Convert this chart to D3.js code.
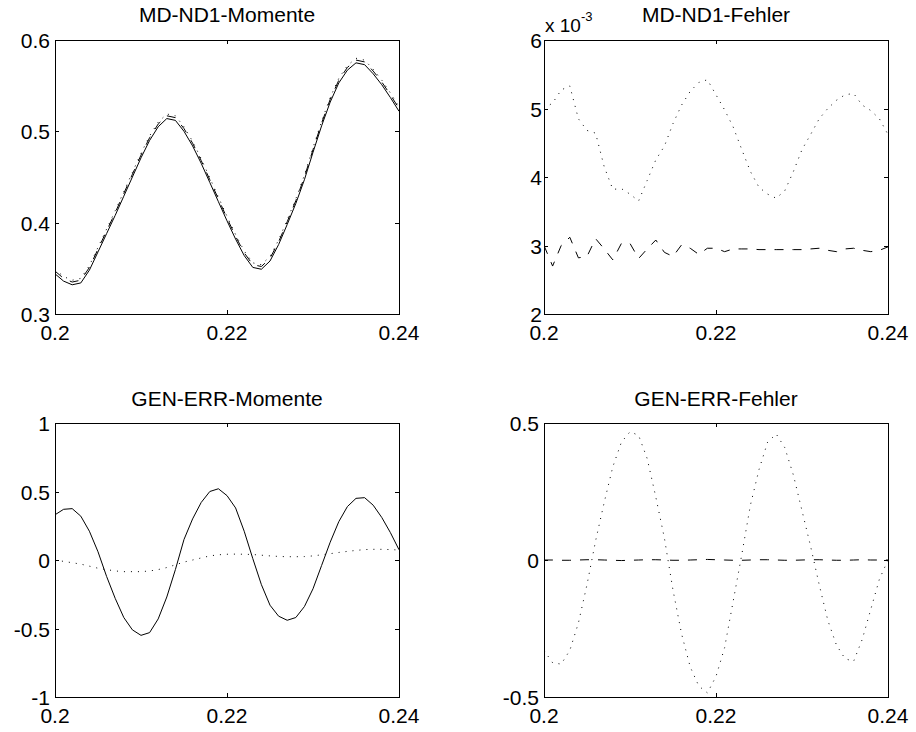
<!DOCTYPE html>
<html>
<head>
<meta charset="utf-8">
<script src="https://cdn.jsdelivr.net/npm/d3@7"></script>
<style>
  body { margin: 0; background: #fff; }
  svg text { font-family: "Liberation Sans", Arial, sans-serif; fill: #000; }
</style>
</head>
<body>
<div id="chart"></div>
<script>
// time axis, 0.2 .. 0.24 in steps of 0.001
const xs = d3.range(41).map(i => +(0.2 + i * 0.001).toFixed(3));
const xTicks = [0.2, 0.22, 0.24];

// MD-ND1-Momente
const mdSolid = [0.344,0.336,0.332,0.334,0.348,0.368,0.388,0.408,0.429,0.450,0.471,0.490,0.505,0.514,0.512,0.500,0.484,0.465,0.444,0.423,0.402,0.382,0.364,0.351,0.349,0.358,0.376,0.398,0.421,0.447,0.477,0.506,0.532,0.553,0.567,0.575,0.573,0.563,0.551,0.537,0.522];
const mdDashed = [0.347,0.339,0.335,0.337,0.351,0.371,0.391,0.411,0.432,0.453,0.474,0.493,0.508,0.517,0.515,0.503,0.487,0.468,0.447,0.426,0.405,0.385,0.367,0.354,0.352,0.361,0.379,0.401,0.424,0.450,0.480,0.509,0.535,0.556,0.570,0.578,0.576,0.566,0.554,0.540,0.525];
const mdDotted = [0.349,0.341,0.337,0.339,0.353,0.373,0.393,0.413,0.434,0.455,0.476,0.495,0.510,0.519,0.517,0.505,0.489,0.470,0.449,0.428,0.407,0.387,0.369,0.356,0.354,0.363,0.381,0.403,0.426,0.452,0.482,0.511,0.537,0.558,0.572,0.580,0.578,0.568,0.556,0.542,0.527];

// MD-ND1-Fehler (values in units of 1e-3)
const mdErrDotted = [5.00,5.08,5.27,5.33,4.85,4.68,4.64,4.15,3.82,3.83,3.75,3.65,3.95,4.25,4.45,4.78,5.05,5.25,5.38,5.42,5.20,4.98,4.73,4.40,4.08,3.85,3.75,3.69,3.80,4.08,4.40,4.62,4.85,5.00,5.12,5.20,5.22,5.05,4.97,4.85,4.62];
const mdErrDashed = [3.00,2.70,3.00,3.12,2.82,2.84,3.10,2.95,2.79,3.03,3.03,2.81,2.95,3.08,2.90,2.84,3.01,2.96,2.87,2.96,2.96,2.91,2.95,2.95,2.95,2.94,2.94,2.94,2.94,2.94,2.94,2.95,2.96,2.93,2.91,2.95,2.96,2.93,2.91,2.93,2.98];

// GEN-ERR-Momente
const genSolid = [0.33,0.37,0.375,0.32,0.21,0.06,-0.12,-0.28,-0.42,-0.51,-0.55,-0.53,-0.43,-0.27,-0.07,0.15,0.30,0.42,0.50,0.52,0.47,0.38,0.21,0.01,-0.18,-0.33,-0.41,-0.44,-0.42,-0.34,-0.21,-0.04,0.13,0.28,0.39,0.45,0.455,0.40,0.31,0.20,0.075];
const genDotted = [0.0,-0.01,-0.02,-0.03,-0.045,-0.06,-0.07,-0.08,-0.085,-0.085,-0.085,-0.08,-0.07,-0.055,-0.035,-0.015,0.0,0.015,0.03,0.038,0.042,0.043,0.042,0.04,0.035,0.03,0.026,0.024,0.024,0.025,0.03,0.038,0.046,0.055,0.063,0.07,0.076,0.078,0.078,0.076,0.073];

// GEN-ERR-Fehler
const genErrDotted = [-0.33,-0.375,-0.38,-0.33,-0.23,-0.09,0.07,0.21,0.34,0.43,0.468,0.455,0.37,0.23,0.08,-0.11,-0.27,-0.39,-0.46,-0.485,-0.425,-0.32,-0.15,0.02,0.20,0.33,0.43,0.46,0.41,0.31,0.18,0.05,-0.09,-0.22,-0.31,-0.36,-0.37,-0.29,-0.18,-0.07,0.0];
const genErrDashed = [0.0,0.0,-0.001,-0.001,0.0,0.001,0.001,0.0,-0.001,-0.002,-0.001,0.0,0.001,0.001,0.0,-0.001,-0.001,0.0,0.001,0.002,0.001,0.0,-0.001,-0.001,0.0,0.001,0.001,0.0,-0.001,-0.001,0.0,0.001,0.001,0.0,-0.001,-0.001,0.0,0.001,0.0,0.0,0.0];

const width = 916, height = 732;
const pw = 344, ph = 274;

const svg = d3.select("#chart").append("svg")
    .attr("width", width)
    .attr("height", height);

const dash = { solid: null, dashed: "9,9", dotted: "1,6" };

function panel(opt) {
  const g = svg.append("g").attr("transform", `translate(${opt.left},${opt.top})`);
  const x = d3.scaleLinear().domain([0.2, 0.24]).range([0, pw]);
  const y = d3.scaleLinear().domain(opt.yDomain).range([ph, 0]);

  const clipId = "clip" + opt.id;
  g.append("clipPath").attr("id", clipId)
    .append("rect").attr("width", pw).attr("height", ph);

  const line = d3.line().x((d, i) => x(xs[i])).y(d => y(d));
  const plot = g.append("g").attr("clip-path", `url(#${clipId})`);
  opt.series.forEach(s => {
    plot.append("path")
      .datum(s.values)
      .attr("d", line)
      .attr("fill", "none")
      .attr("stroke", "#000")
      .attr("stroke-width", 1)
      .attr("stroke-dasharray", dash[s.style]);
  });

  // box with inward ticks on all sides (matlab style)
  const tk = 4;
  g.append("rect")
    .attr("x", 0.5).attr("y", 0.5)
    .attr("width", pw).attr("height", ph)
    .attr("fill", "none").attr("stroke", "#000");

  xTicks.forEach(t => {
    const px = Math.round(x(t)) + 0.5;
    g.append("line").attr("x1", px).attr("x2", px).attr("y1", ph).attr("y2", ph - tk).attr("stroke", "#000");
    g.append("line").attr("x1", px).attr("x2", px).attr("y1", 0).attr("y2", tk).attr("stroke", "#000");
    g.append("text")
      .attr("x", x(t)).attr("y", ph + 26)
      .attr("text-anchor", "middle")
      .attr("font-size", 21)
      .text(String(t));
  });

  opt.yTicks.forEach(t => {
    const py = Math.round(y(t)) + 0.5;
    g.append("line").attr("x1", 0).attr("x2", tk).attr("y1", py).attr("y2", py).attr("stroke", "#000");
    g.append("line").attr("x1", pw).attr("x2", pw - tk).attr("y1", py).attr("y2", py).attr("stroke", "#000");
    g.append("text")
      .attr("x", -opt.labelGap).attr("y", y(t) + 8)
      .attr("text-anchor", "end")
      .attr("font-size", 21)
      .text(String(t));
  });

  g.append("text")
    .attr("x", pw / 2).attr("y", opt.titleY)
    .attr("text-anchor", "middle")
    .attr("font-size", 21)
    .text(opt.title);

  if (opt.exponent) {
    const e = g.append("text").attr("x", 1).attr("y", -8).attr("font-size", 19);
    e.append("tspan").text("x 10");
    e.append("tspan").attr("dy", -11).attr("font-size", 13).text(opt.exponent);
  }
}

panel({ id: 1, left: 55, top: 40, title: "MD-ND1-Momente", titleY: -18, labelGap: 5,
  yDomain: [0.3, 0.6], yTicks: [0.3, 0.4, 0.5, 0.6],
  series: [{ values: mdSolid, style: "solid" }, { values: mdDashed, style: "dashed" }, { values: mdDotted, style: "dotted" }] });

panel({ id: 2, left: 544, top: 40, title: "MD-ND1-Fehler", titleY: -18, labelGap: 2,
  yDomain: [2, 6], yTicks: [2, 3, 4, 5, 6], exponent: "-3",
  series: [{ values: mdErrDashed, style: "dashed" }, { values: mdErrDotted, style: "dotted" }] });

panel({ id: 3, left: 55, top: 423, title: "GEN-ERR-Momente", titleY: -17, labelGap: 5,
  yDomain: [-1, 1], yTicks: [-1, -0.5, 0, 0.5, 1],
  series: [{ values: genSolid, style: "solid" }, { values: genDotted, style: "dotted" }] });

panel({ id: 4, left: 544, top: 423, title: "GEN-ERR-Fehler", titleY: -17, labelGap: 5,
  yDomain: [-0.5, 0.5], yTicks: [-0.5, 0, 0.5],
  series: [{ values: genErrDashed, style: "dashed" }, { values: genErrDotted, style: "dotted" }] });
</script>
</body>
</html>
